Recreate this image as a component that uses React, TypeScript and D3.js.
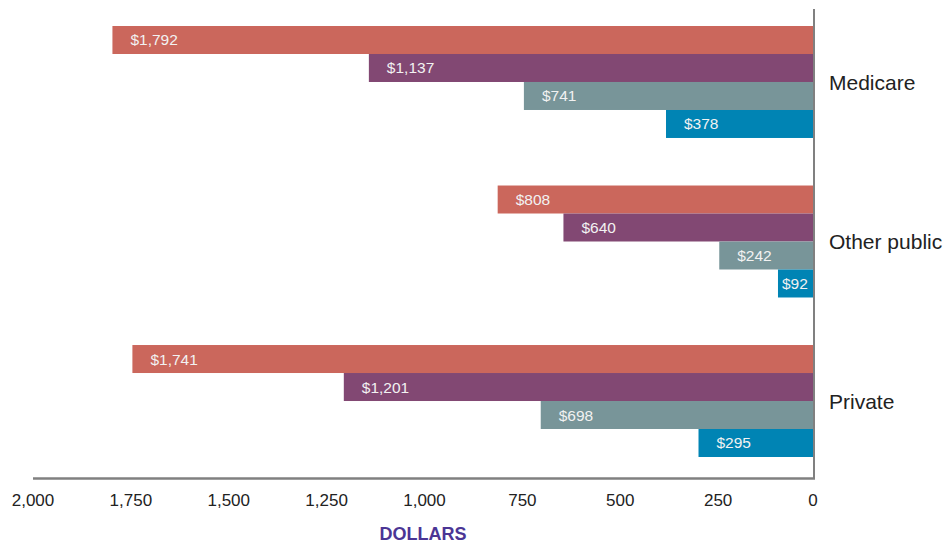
import React from 'react';
import * as d3 from 'd3';

const categories = ['Medicare', 'Other public', 'Private'];
const seriesNames = ['first', 'second', 'third', 'fourth'];
const firstValues = [1792, 808, 1741];
const secondValues = [1137, 640, 1201];
const thirdValues = [741, 242, 698];
const fourthValues = [378, 92, 295];
const tickValues = [2000, 1750, 1500, 1250, 1000, 750, 500, 250, 0];
const colors = ['#cb675c', '#824873', '#789599', '#0084b4'];

const width = 949;
const height = 543;
const font = '"Liberation Sans", Arial, Helvetica, sans-serif';

const App: React.FC = () => {
    const series = [firstValues, secondValues, thirdValues, fourthValues];

    const xScale = d3.scaleLinear().domain([0, 2000]).range([814, 31]);

    const yScale = d3
        .scaleBand()
        .domain(categories)
        .range([26, 457])
        .paddingInner(0.298)
        .paddingOuter(0);

    const ySub = d3
        .scaleBand()
        .domain(seriesNames)
        .range([0, yScale.bandwidth()])
        .padding(0);

    const fmt = d3.format(',');

    return (
        <svg
            width={width}
            height={height}
            style={{ position: 'absolute', left: 0, top: 0, background: '#fff' }}
        >
            {categories.map((cat, ci) => (
                <g key={cat} transform={`translate(0, ${yScale(cat)})`}>
                    {series.map((vals, si) => {
                        const v = vals[ci];
                        const x = xScale(v);
                        const w = xScale(0) - x;
                        const y = ySub(seriesNames[si])!;
                        const h = ySub.bandwidth();
                        // label sits inside the bar, left side
                        const off = Math.min(18, Math.max(4, (w - 28) / 2));
                        return (
                            <g key={si}>
                                <rect x={x} y={y} width={w} height={h} fill={colors[si]} />
                                <text
                                    x={x + off}
                                    y={y + h / 2 + 5.5}
                                    fill="#f2f2f2"
                                    fontSize={15.5}
                                    fontFamily={font}
                                >
                                    {`$${fmt(v)}`}
                                </text>
                            </g>
                        );
                    })}
                    <text
                        x={829}
                        y={yScale.bandwidth() / 2 + 8}
                        fill="#222"
                        fontSize={21}
                        fontFamily={font}
                    >
                        {cat}
                    </text>
                </g>
            ))}

            {/* axes */}
            <line x1={814} x2={814} y1={9} y2={479} stroke="#808080" strokeWidth={2} />
            <line x1={33} x2={815} y1={478.5} y2={478.5} stroke="#808080" strokeWidth={2.5} />

            {tickValues.map((t) => (
                <text
                    key={t}
                    x={t === 0 ? xScale(t) - 1 : xScale(t) + 2}
                    y={506}
                    textAnchor="middle"
                    fill="#222"
                    fontSize={17}
                    fontFamily={font}
                >
                    {fmt(t)}
                </text>
            ))}

            <text
                x={423}
                y={540}
                textAnchor="middle"
                fill="#4b3595"
                fontSize={18}
                fontWeight="bold"
                fontFamily={font}
            >
                DOLLARS
            </text>
        </svg>
    );
};

export default App;
